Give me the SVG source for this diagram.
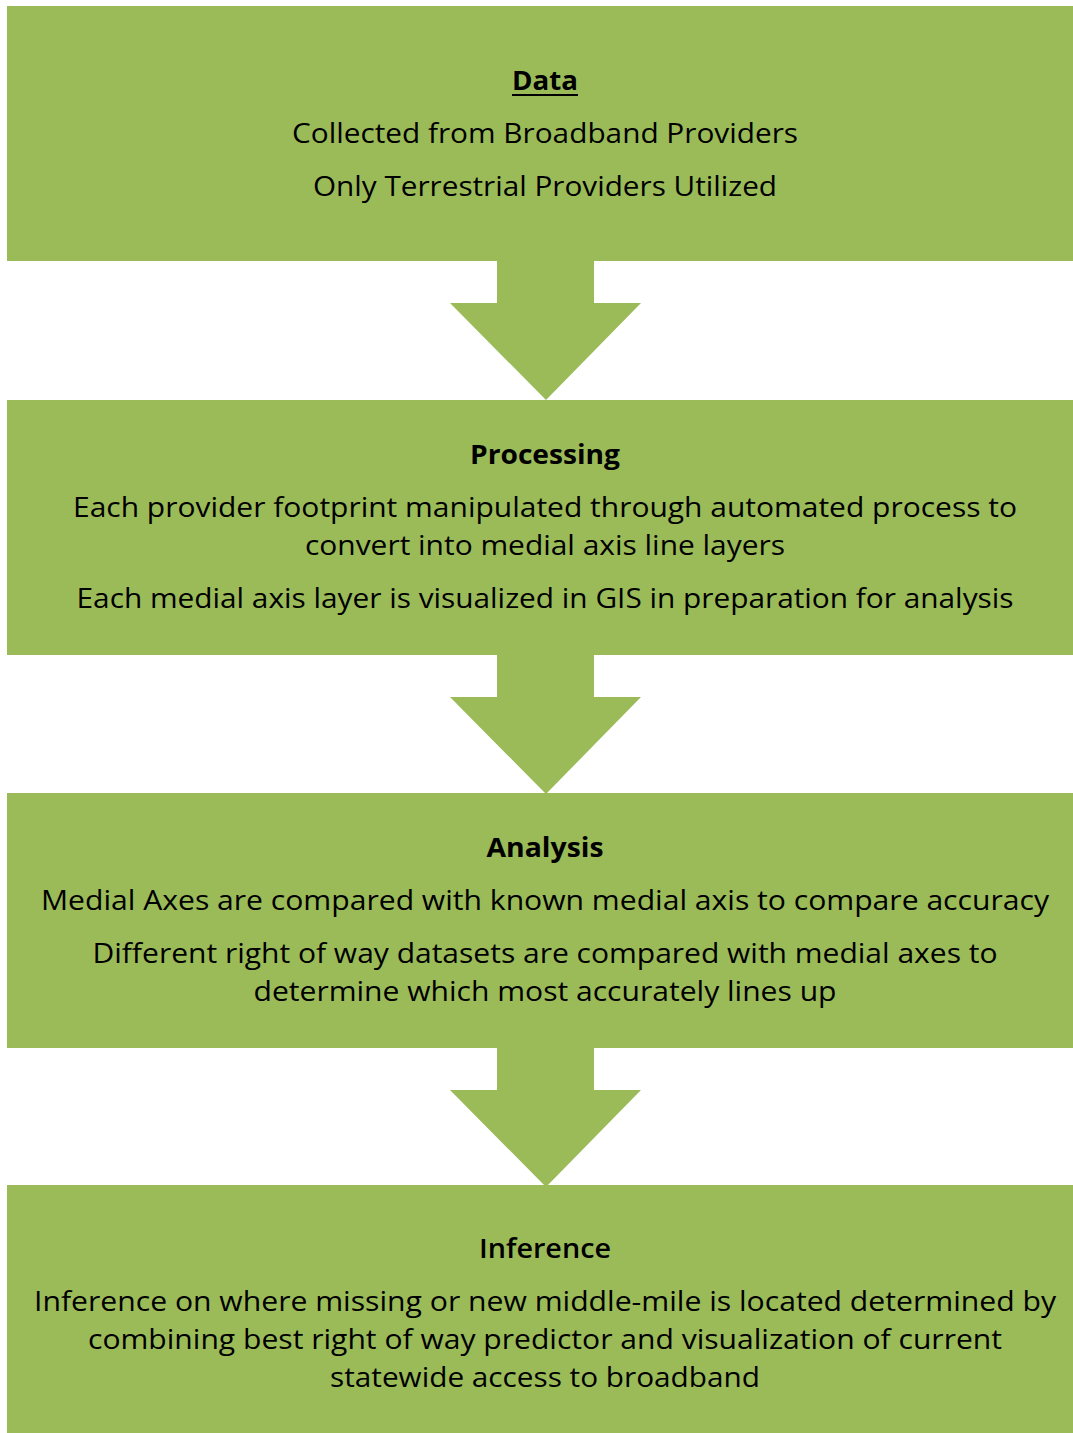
<svg xmlns="http://www.w3.org/2000/svg" width="1073" height="1433" viewBox="0 0 1073 1433">
<style>
.box{fill:#9BBB59}
.arr{fill:#9BBB59}
text{font-family:"Open Sans","Noto Sans",sans-serif;font-size:26.5px;fill:#000;text-anchor:middle}
.t{font-weight:bold}
.t2{font-weight:600}
</style>
<rect width="1073" height="1433" fill="#fff"/>
<g id="connectors">
<path class="arr" d="M497,261 H594 V303 H641 L546,400 L450,303 H497 Z"/>
<path class="arr" d="M497,655 H594 V697 H641 L546,794 L450,697 H497 Z"/>
<path class="arr" d="M497,1048 H594 V1090 H641 L546,1187 L450,1090 H497 Z"/>
</g>
<g id="data">
<rect class="box" x="7" y="6" width="1066" height="255"/>
<text class="t" x="545" y="90" textLength="66" lengthAdjust="spacingAndGlyphs">Data</text>
<rect x="512" y="94" width="66" height="2" fill="#000"/>
<text x="545" y="143" textLength="506" lengthAdjust="spacingAndGlyphs">Collected from Broadband Providers</text>
<text x="545" y="196" textLength="464" lengthAdjust="spacingAndGlyphs">Only Terrestrial Providers Utilized</text>
</g>
<g id="processing">
<rect class="box" x="7" y="400" width="1066" height="255"/>
<text class="t" x="545" y="464" textLength="150" lengthAdjust="spacingAndGlyphs">Processing</text>
<text x="545" y="517" textLength="944" lengthAdjust="spacingAndGlyphs">Each provider footprint manipulated through automated process to</text>
<text x="545" y="555" textLength="480" lengthAdjust="spacingAndGlyphs">convert into medial axis line layers</text>
<text x="545" y="608" textLength="937" lengthAdjust="spacingAndGlyphs">Each medial axis layer is visualized in GIS in preparation for analysis</text>
</g>
<g id="analysis">
<rect class="box" x="7" y="793" width="1066" height="255"/>
<text class="t" x="545" y="857" textLength="117" lengthAdjust="spacingAndGlyphs">Analysis</text>
<text x="545" y="910" textLength="1008" lengthAdjust="spacingAndGlyphs">Medial Axes are compared with known medial axis to compare accuracy</text>
<text x="545" y="963" textLength="905" lengthAdjust="spacingAndGlyphs">Different right of way datasets are compared with medial axes to</text>
<text x="545" y="1001" textLength="583" lengthAdjust="spacingAndGlyphs">determine which most accurately lines up</text>
</g>
<g id="inference">
<rect class="box" x="7" y="1185" width="1066" height="248"/>
<text class="t2" x="545" y="1258" textLength="132" lengthAdjust="spacingAndGlyphs">Inference</text>
<text x="545" y="1311" textLength="1022" lengthAdjust="spacingAndGlyphs">Inference on where missing or new middle-mile is located determined by</text>
<text x="545" y="1349" textLength="914" lengthAdjust="spacingAndGlyphs">combining best right of way predictor and visualization of current</text>
<text x="545" y="1387" textLength="430" lengthAdjust="spacingAndGlyphs">statewide access to broadband</text>
</g>
</svg>
